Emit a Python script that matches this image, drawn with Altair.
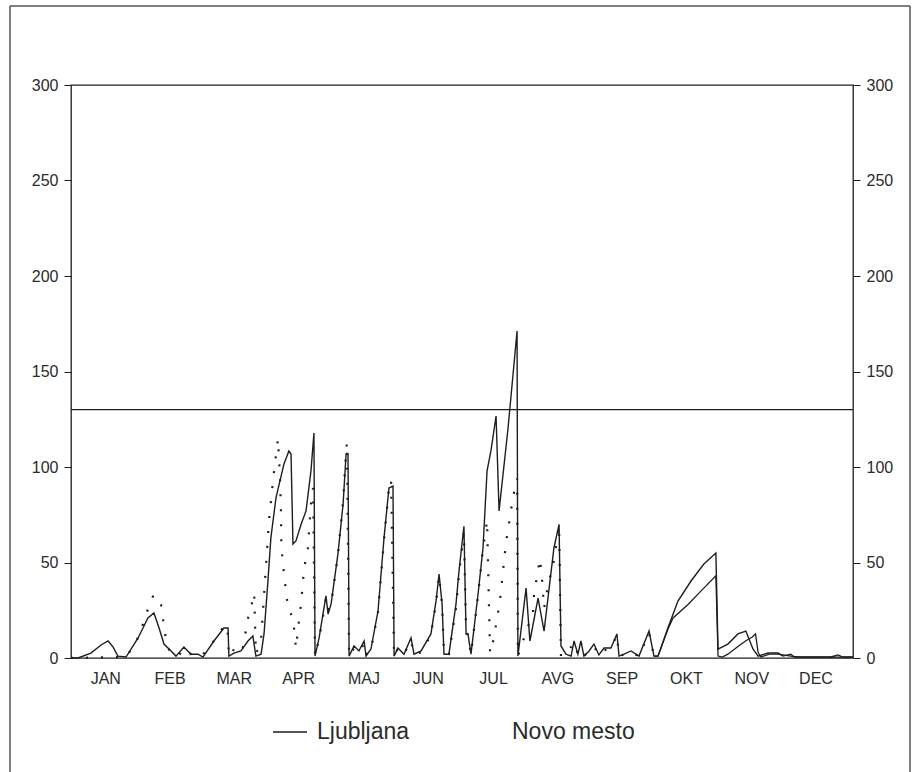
import altair as alt
import pandas as pd

months = ['JAN', 'FEB', 'MAR', 'APR', 'MAJ', 'JUN', 'JUL', 'AVG', 'SEP', 'OKT', 'NOV', 'DEC']
month_label_day = [16, 46, 76, 106, 136.5, 166.5, 197, 227, 257, 287, 317.5, 347.5]
series_names = ['Ljubljana', 'Novo mesto']
y_ticks = [0, 50, 100, 150, 200, 250, 300]
threshold = [130]

# Ljubljana (solid line): day of year, value
lj_day = [0, 3.3, 9.3, 14, 17.3, 19.6, 21.9, 25.7, 31.3, 35.9, 38.7, 41.1, 43.4, 46.7, 49,
          52.7, 56, 59.3, 61.6, 66.7, 71.4, 73.3, 73.7, 76.1, 79.3, 82.6, 84.9, 86.3, 88.7,
          90.1, 91.9, 93.3, 95.7, 99.4, 101.7, 102.7, 103.6, 105, 107.4, 109.7, 112, 113.4,
          113.9, 115.8, 119, 120, 121.4, 124.6, 127, 128.4, 129.3, 129.8, 132.1, 134.4, 136.8,
          137.7, 140, 143.3, 146.1, 148.4, 150.3, 150.8, 152.6, 155.4, 158.7, 160.1, 163.4,
          168, 170.4, 171.8, 173.2, 174.1, 176.4, 179.7, 181.1, 183.4, 184.4, 185.3, 186.7,
          190, 192.3, 194.2, 196, 198.4, 199.8, 204, 208.2, 208.6, 212.4, 214.2, 218, 220.8,
          225.4, 227.8, 228.7, 231, 233.4, 234.8, 236.6, 238, 239.4, 241.8, 244.1, 246.4,
          248.8, 252, 254.8, 255.8, 258.1, 261.4, 265.1, 269.8, 272.1, 274, 278.6, 283.3,
          289.4, 295.4, 301, 302, 306.6, 311.3, 315, 318.3, 320.7, 325.3, 330, 332.3, 336,
          337.5, 354.7, 358, 360.3, 365]
lj_val = [0, 0, 2.6, 6.8, 8.9, 5.8, 1, 0.5, 10.5, 21, 23.6, 15.7, 7.3, 3.7, 1,
          5.8, 2, 2, 0.5, 8.9, 15.7, 15.7, 1, 2.6, 3.7, 8.9, 11.5, 1, 2,
          12.6, 40, 63, 84, 101.6, 108.4, 106.8, 59.7, 61.3, 70, 77, 98, 117.8,
          1, 10.5, 32.5, 23, 28.3, 54.5, 80.6, 106.8, 106.8, 1, 6.3, 3.7, 8.9,
          1, 4.7, 24.6, 62.8, 89, 90, 1, 5.2, 2, 10.5, 2, 3.7,
          12.6, 30, 44, 28.3, 2, 2, 28.3, 45.5, 69, 12.6, 12.6, 2,
          33.5, 57.6, 98, 108.4, 126.7, 77, 120.4, 171.2, 1, 36.6, 8.9, 31.4, 14.1,
          57.6, 70, 6.3, 2, 1, 8.9, 2, 8.9, 1, 3.7, 7.3, 1.6,
          5.2, 5.2, 12.6, 1, 2, 3.7, 1, 14.1, 1, 1, 15.7, 29.8,
          40.3, 49.2, 55, 4.7, 7.3, 12.6, 14.1, 4.7, 1, 2.6, 2.6, 1, 2,
          0.5, 0.5, 1.6, 0.5, 0.5]

# Novo mesto (dotted line), January - September
nm_day = [0, 25, 28, 31, 34, 36, 38.5, 40, 42, 43, 44, 45.5, 47, 50, 53, 56, 61, 66.7, 71, 73,
          73.7, 77, 80, 83, 84.5, 85.5, 86.3, 88.7, 92.4, 94.3, 95.7, 96.6, 97.5, 98, 98.2, 99,
          99.4, 101.3, 103.6, 104.1, 105, 106.4, 107.4, 108.8, 110.6, 111.1, 112, 113, 113.9,
          115.8, 119, 120, 121.4, 124.6, 127, 128.4, 128.8, 129.8, 132, 134.5, 137, 138, 140,
          143.3, 146.1, 148.4, 149.4, 150.8, 152.6, 155.4, 158.7, 160.1, 163.4, 168, 170.4,
          171.8, 173.2, 174.1, 176.4, 179.7, 181.1, 183.4, 184.4, 185.3, 186.7, 190, 192.3,
          194.2, 195.6, 197.4, 200.2, 203, 206.3, 208.2, 208.6, 210, 212.4, 215.6, 216.1,
          217.5, 218.9, 219.8, 220.8, 222.5, 225.4, 227.8, 228.7, 231, 234.8, 236.6, 238,
          239.4, 244.1, 246.4, 248.8, 252, 254.8, 255.8, 261.4, 265.1, 269.8, 272.1]
nm_val = [0, 0.5, 4, 10, 19, 26, 33, 30, 28, 20, 12, 5, 2, 1, 5, 2, 1, 9, 16, 17,
          1, 6, 4, 23, 29, 34, 2, 9, 72, 92.7, 106.8, 114.7, 96, 77, 57.6, 49,
          44, 26, 21, 15.7, 5.2, 19.4, 28.8, 47, 57.6, 66.5, 80.6, 89, 1,
          10, 31, 25, 28, 54, 82, 108, 113, 1, 5, 3, 8, 2, 4,
          24, 62, 89, 93, 1, 5, 2, 9, 2, 3, 12, 29,
          43, 28, 2, 2, 26, 44, 66, 14, 12, 2, 33, 57,
          72, 2.6, 10.5, 30, 60, 84, 94, 1, 5.2, 14, 23, 32.5,
          43, 52, 42, 26, 37, 51, 69, 1, 2, 8, 2, 8,
          1, 6, 1.6, 4, 5, 12, 1, 3, 1, 13, 1]

# Novo mesto, October - December (drawn continuous in the original)
nm_aut_day = [272.1, 274, 278.6, 281, 288, 294, 301, 302, 304, 306.6, 311.3, 315, 318, 319.5,
              320.7, 322, 326, 330, 336, 340, 365]
nm_aut_val = [1, 1, 15, 21, 28, 35, 43, 1, 0.5, 2, 6, 9, 11, 12.6,
              3, 0.5, 2, 2, 1, 0.5, 0.5]

assert len(lj_day) == len(lj_val)
assert len(nm_day) == len(nm_val)
assert len(nm_aut_day) == len(nm_aut_val)
assert len(months) == len(month_label_day)

lj = pd.DataFrame({'day': lj_day, 'value': lj_val})
nm = pd.DataFrame({'day': nm_day, 'value': nm_val})
nm_aut = pd.DataFrame({'day': nm_aut_day, 'value': nm_aut_val})

label_expr = "[%s][indexof([%s], datum.value)]" % (
    ",".join("'%s'" % m for m in months), ",".join(str(p) for p in month_label_day))

W, H = 782, 573
FONT = 'Liberation Sans'
TXT = '#2b2b2b'
LINE = '#1e1e1e'

xscale = alt.Scale(domain=[0, 365], nice=False, zero=False)
yscale = alt.Scale(domain=[0, 300], nice=False)

x_enc = alt.X('day:Q', scale=xscale,
              axis=alt.Axis(values=month_label_day, labelExpr=label_expr, ticks=False, domain=False,
                            grid=False, title=None, labelFontSize=16, labelPadding=12,
                            labelColor=TXT, labelFont=FONT, labelOverlap=False))


def y_axis(orient):
    return alt.Axis(orient=orient, values=y_ticks, tickSize=7, tickColor=LINE, labelPadding=6,
                    domain=False, grid=False, title=None, labelFontSize=16, labelColor=TXT,
                    labelFont=FONT)


lj_line = alt.Chart(lj).mark_line(color=LINE, strokeWidth=1.4).encode(
    x=x_enc, y=alt.Y('value:Q', scale=yscale, axis=y_axis('left')))

nm_line = alt.Chart(nm).mark_line(color=LINE, strokeWidth=2.2, strokeDash=[2, 13]).encode(
    x=x_enc, y=alt.Y('value:Q', scale=yscale, axis=y_axis('right')))

nm_aut_line = alt.Chart(nm_aut).mark_line(color=LINE, strokeWidth=1.3).encode(
    x=x_enc, y=alt.Y('value:Q', scale=yscale, axis=None))

rule = alt.Chart(pd.DataFrame({'value': threshold})).mark_rule(color=LINE, strokeWidth=1.3).encode(
    y=alt.Y('value:Q', scale=yscale, axis=None))

one = pd.DataFrame({'a': [0]})
FR = '#555'
frame_top = alt.Chart(one).mark_rule(color=FR, strokeWidth=1.5).encode(
    x=alt.value(-61), x2=alt.value(839), y=alt.value(-79))
frame_left = alt.Chart(one).mark_rule(color=FR, strokeWidth=1.5).encode(
    x=alt.value(-61), y=alt.value(-79), y2=alt.value(688))
frame_right = alt.Chart(one).mark_rule(color=FR, strokeWidth=1.5).encode(
    x=alt.value(839), y=alt.value(-79), y2=alt.value(688))

leg_y = 647
leg_rule = alt.Chart(one).mark_rule(color=LINE, strokeWidth=1.3).encode(
    x=alt.value(202), x2=alt.value(236), y=alt.value(leg_y))
leg_t1 = alt.Chart(pd.DataFrame({'label': [series_names[0]]})).mark_text(
    align='left', baseline='middle', fontSize=23, font=FONT, color=TXT).encode(
    text='label:N', x=alt.value(246), y=alt.value(leg_y))
leg_t2 = alt.Chart(pd.DataFrame({'label': [series_names[1]]})).mark_text(
    align='left', baseline='middle', fontSize=23, font=FONT, color=TXT).encode(
    text='label:N', x=alt.value(441), y=alt.value(leg_y))

chart = alt.layer(frame_top, frame_left, frame_right, rule, nm_aut_line, nm_line, lj_line,
                  leg_rule, leg_t1, leg_t2).resolve_axis(
    y='independent'
).properties(
    width=W, height=H,
    padding={'left': 9, 'top': 5, 'right': 0, 'bottom': 0},
    background='white'
).configure_view(stroke=LINE, strokeWidth=1.3)

chart.save('out.html', embed_options={'renderer': 'svg', 'actions': False})
